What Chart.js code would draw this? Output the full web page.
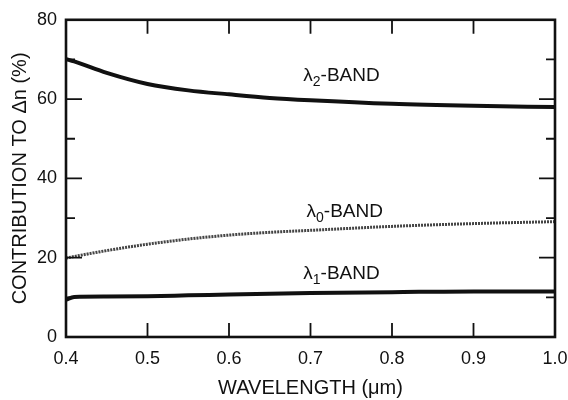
<!DOCTYPE html>
<html>
<head>
<meta charset="utf-8">
<script src="https://cdn.jsdelivr.net/npm/chart.js@4/dist/chart.umd.min.js"></script>
<style>
  html, body { margin: 0; padding: 0; background: #fff; }
  #wrap { width: 568px; height: 400px; position: relative; }
</style>
</head>
<body>
<div id="wrap"><canvas id="c"></canvas></div>
<script>
// wavelength (um) samples
var WL = [0.40, 0.41, 0.45, 0.50, 0.55, 0.60, 0.65, 0.70, 0.80, 0.90, 1.00];
var BAND2 = [70.1, 69.5, 66.6, 63.8, 62.2, 61.2, 60.3, 59.7, 58.8, 58.3, 58.0];
var BAND0 = [19.9, 20.3, 21.8, 23.4, 24.7, 25.7, 26.4, 26.9, 27.9, 28.6, 29.1];
var BAND1 = [9.4, 10.1, 10.2, 10.3, 10.5, 10.7, 10.9, 11.1, 11.3, 11.5, 11.5];
var X_MIN = 0.4, X_MAX = 1.0, X_STEP = 0.1;
var Y_MIN = 0, Y_MAX = 80, Y_STEP = 10;
// curve labels: [main, subscript, rest, x centre, y centre]
var LABELS = [
  ['\u03BB', '2', '-BAND', 0.738, 66],
  ['\u03BB', '0', '-BAND', 0.742, 31.7],
  ['\u03BB', '1', '-BAND', 0.738, 16.2]
];

var FONT = "'Liberation Sans', Arial, Helvetica, sans-serif";
var INK = '#111';

function pts(ys) { return WL.map(function (x, i) { return { x: x, y: ys[i] }; }); }

// frame + inward ticks + curve labels
var decor = {
  id: 'decor',
  afterDatasetsDraw: function (chart) {
    var ctx = chart.ctx, a = chart.chartArea, xs = chart.scales.x, ys = chart.scales.y;
    ctx.save();
    ctx.strokeStyle = INK;
    ctx.lineWidth = 1.8;
    xs.ticks.forEach(function (t) {
      if (t.value <= X_MIN + 1e-6 || t.value >= X_MAX - 1e-6) return;
      var px = xs.getPixelForValue(t.value);
      ctx.beginPath();
      ctx.moveTo(px, a.bottom); ctx.lineTo(px, a.bottom - 14);
      ctx.moveTo(px, a.top); ctx.lineTo(px, a.top + 14);
      ctx.stroke();
    });
    ys.ticks.forEach(function (t) {
      if (t.value <= Y_MIN || t.value >= Y_MAX) return;
      var py = ys.getPixelForValue(t.value);
      var len = t.value % 20 === 0 ? 16 : 9;
      ctx.beginPath();
      ctx.moveTo(a.left, py); ctx.lineTo(a.left + len, py);
      ctx.moveTo(a.right, py); ctx.lineTo(a.right - len, py);
      ctx.stroke();
    });
    ctx.lineWidth = 2.6;
    ctx.strokeRect(a.left, a.top, a.right - a.left, a.bottom - a.top);

    ctx.fillStyle = INK;
    ctx.textBaseline = 'alphabetic';
    ctx.textAlign = 'left';
    LABELS.forEach(function (L) {
      ctx.font = '19px ' + FONT;
      var w0 = ctx.measureText(L[0]).width;
      var w2 = ctx.measureText(L[2]).width;
      ctx.font = '14px ' + FONT;
      var w1 = ctx.measureText(L[1]).width;
      var x0 = xs.getPixelForValue(L[3]) - (w0 + w1 + w2) / 2;
      var cy = ys.getPixelForValue(L[4]) + 6;
      ctx.font = '19px ' + FONT;
      ctx.fillText(L[0], x0, cy);
      ctx.fillText(L[2], x0 + w0 + w1, cy);
      ctx.font = '14px ' + FONT;
      ctx.fillText(L[1], x0 + w0, cy + 5);
    });
    ctx.restore();
  }
};

new Chart(document.getElementById('c'), {
  type: 'line',
  data: {
    datasets: [
      { label: 'l2', data: pts(BAND2), borderColor: INK, borderWidth: 4, pointRadius: 0, cubicInterpolationMode: 'monotone' },
      { label: 'l0', data: pts(BAND0), borderColor: '#444', borderWidth: 3, borderDash: [2, 1], pointRadius: 0, cubicInterpolationMode: 'monotone' },
      { label: 'l1', data: pts(BAND1), borderColor: INK, borderWidth: 4, pointRadius: 0, cubicInterpolationMode: 'monotone' }
    ]
  },
  options: {
    responsive: true, maintainAspectRatio: false, animation: false,
    layout: { padding: { top: 17, right: 0, left: 0, bottom: 0 } },
    plugins: { legend: { display: false }, tooltip: { enabled: false } },
    scales: {
      x: {
        type: 'linear', min: X_MIN, max: X_MAX,
        grid: { display: false, drawTicks: false },
        border: { display: false },
        ticks: {
          stepSize: X_STEP, color: INK, padding: 11,
          font: { family: FONT, size: 18 },
          callback: function (v) { return v.toFixed(1); }
        },
        title: { display: true, text: 'WAVELENGTH (\u03BCm)', color: INK, font: { family: FONT, size: 20 }, padding: { top: 4, bottom: 0 } },
        afterFit: function (s) { s.height = 63; s.paddingRight = 13; }
      },
      y: {
        min: Y_MIN, max: Y_MAX,
        grid: { display: false, drawTicks: false },
        border: { display: false },
        ticks: {
          stepSize: Y_STEP, color: INK, padding: 9,
          font: { family: FONT, size: 18 },
          callback: function (v) { return v % 20 === 0 ? v : ''; }
        },
        title: { display: true, text: 'CONTRIBUTION TO \u0394n (%)', color: INK, font: { family: FONT, size: 20 }, padding: { top: 8, bottom: 0 } },
        afterFit: function (s) { s.width = 66; }
      }
    }
  },
  plugins: [decor]
});
</script>
</body>
</html>
